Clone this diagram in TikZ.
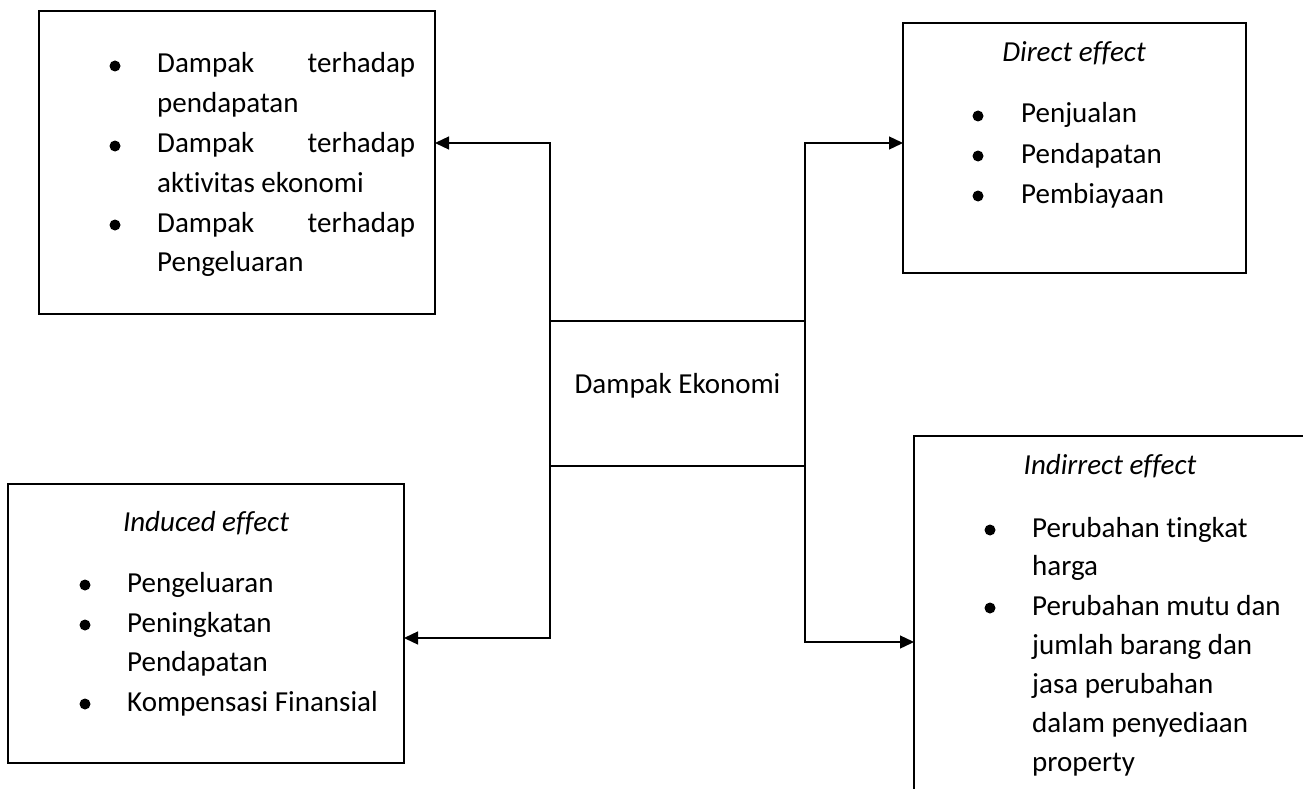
\documentclass[tikz,border=0pt]{standalone}
\usepackage{fontspec}
\setmainfont{Carlito}[Ligatures=NoCommon]
\usetikzlibrary{arrows.meta}
\begin{document}
\begin{tikzpicture}[x=1pt,y=-1pt,
  box/.style={draw,line width=2.8pt,anchor=north west,inner sep=0pt,outer sep=0pt},
  conn/.style={line width=1.3pt,-{Triangle[length=14pt,width=13pt]}},
  txt/.style={anchor=base west,inner sep=0pt,font=\fontsize{29}{39}\selectfont},
  ttl/.style={anchor=base,inner sep=0pt,font=\fontsize{29}{39}\selectfont\itshape},
  dot/.style={circle,fill,inner sep=0pt,minimum size=11pt}]
\useasboundingbox (0,0) rectangle (1303,789);
\clip (0,0) rectangle (1303,789);

% boxes
\node[box,minimum width=396pt,minimum height=303pt] (tl) at (39,11) {};
\node[box,minimum width=343pt,minimum height=250pt] (tr) at (903,23) {};
\node[box,minimum width=255pt,minimum height=145pt] (ctr) at (550,321) {};
\node[box,minimum width=396pt,minimum height=279pt] (bl) at (8,484) {};
\node[box,minimum width=420pt,minimum height=380pt] (br) at (914,436) {};

% centre text
\node[anchor=center,inner sep=0pt,font=\fontsize{29}{39}\selectfont] (ctrt) at (677.5,386) {Dampak Ekonomi};

% top-left box
\node[dot] (tlb1) at (115,66) {};
\node[dot] (tlb2) at (115,146) {};
\node[dot] (tlb3) at (115,225) {};
\node[txt] (tl1) at (157,73) {\makebox[258pt][s]{Dampak terhadap}};
\node[txt] (tl2) at (157,113) {pendapatan};
\node[txt] (tl3) at (157,153) {\makebox[258pt][s]{Dampak terhadap}};
\node[txt] (tl4) at (157,192) {aktivitas ekonomi};
\node[txt] (tl5) at (157,232) {\makebox[258pt][s]{Dampak terhadap}};
\node[txt] (tl6) at (157,271) {Pengeluaran};

% top-right box
\node[ttl] (trt) at (1074,62) {Direct effect};
\node[dot] (trb1) at (978,116) {};
\node[dot] (trb2) at (978,156) {};
\node[dot] (trb3) at (978,196) {};
\node[txt] (tr1) at (1021,123) {Penjualan};
\node[txt] (tr2) at (1021,163) {Pendapatan};
\node[txt] (tr3) at (1021,203) {Pembiayaan};

% bottom-left box
\node[ttl] (blt) at (206,531) {Induced effect};
\node[dot] (blb1) at (85,585) {};
\node[dot] (blb2) at (85,625) {};
\node[dot] (blb3) at (85,704) {};
\node[txt] (bl1) at (127,592) {Pengeluaran};
\node[txt] (bl2) at (127,632) {Peningkatan};
\node[txt] (bl3) at (127,671) {Pendapatan};
\node[txt] (bl4) at (127,711) {Kompensasi Finansial};

% bottom-right box
\node[ttl] (brt) at (1110,474) {Indirrect effect};
\node[dot] (brb1) at (990,530) {};
\node[dot] (brb2) at (990,608) {};
\node[txt] (br1) at (1032,537) {Perubahan tingkat};
\node[txt] (br2) at (1032,575) {harga};
\node[txt] (br3) at (1032,615) {Perubahan mutu dan};
\node[txt] (br4) at (1032,654) {jumlah barang dan};
\node[txt] (br5) at (1032,693) {jasa perubahan};
\node[txt] (br6) at (1032,732) {dalam penyediaan};
\node[txt] (br7) at (1032,771) {property};

% connectors
\coordinate (y1) at (0,143);
\coordinate (y3) at (0,638);
\coordinate (y4) at (0,642);
\draw[conn] (ctr.north west) -- (ctr.north west |- y1) -- (tl.east |- y1);
\draw[conn] (ctr.north east) -- (ctr.north east |- y1) -- (tr.west |- y1);
\draw[conn] (ctr.south west) -- (ctr.south west |- y3) -- (bl.east |- y3);
\draw[conn] (ctr.south east) -- (ctr.south east |- y4) -- (br.west |- y4);
\end{tikzpicture}
\end{document}
